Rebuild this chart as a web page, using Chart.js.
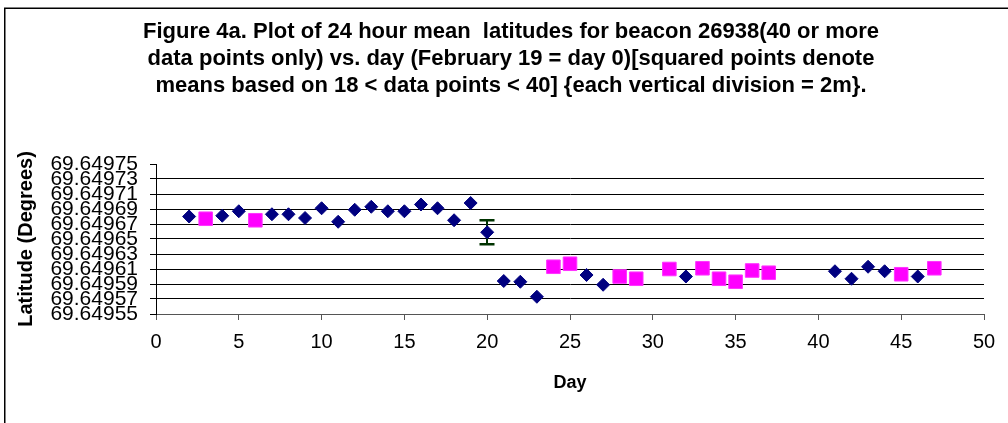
<!DOCTYPE html>
<html>
<head>
<meta charset="utf-8">
<script src="https://cdn.jsdelivr.net/npm/chart.js@4/dist/chart.umd.min.js"></script>
<style>
  html, body { margin: 0; padding: 0; background: #fff; }
  #wrap { width: 1008px; height: 423px; position: relative; }
</style>
</head>
<body>
<div id="wrap"><canvas id="c" width="1008" height="423"></canvas></div>
<script>
// ---- data ----
const titleLines = [
  "Figure 4a. Plot of 24 hour mean  latitudes for beacon 26938(40 or more",
  "data points only) vs. day (February 19 = day 0)[squared points denote",
  "means based on 18 < data points < 40] {each vertical division = 2m}."
];
const xAxisTitle = "Day";
const yAxisTitle = "Latitude (Degrees)";

// diamonds: means with 40 or more data points
const diamondDays = [2, 4, 5, 7, 8, 9, 10, 11, 12, 13, 14, 15, 16, 17, 18, 19, 20, 21, 22, 23, 26, 27, 32, 41, 42, 43, 44, 46];
const diamondLat = [69.649680, 69.649681, 69.649687, 69.649683, 69.649683, 69.649678, 69.649691, 69.649673, 69.649689, 69.649693,
                    69.649687, 69.649687, 69.649696, 69.649691, 69.649675, 69.649698, 69.649659, 69.649594, 69.649593, 69.649573,
                    69.649602, 69.649589, 69.649600, 69.649607, 69.649597, 69.649613, 69.649607, 69.649600];

// squares: means based on 18 < data points < 40
const squareDays = [3, 6, 24, 25, 28, 29, 31, 33, 34, 35, 36, 37, 45, 47];
const squareLat = [69.649677, 69.649675, 69.649613, 69.649617, 69.649600, 69.649597, 69.649610, 69.649611,
                   69.649597, 69.649593, 69.649608, 69.649605, 69.649603, 69.649611];

// error bar
const errorDay = 20;
const errorLow = 69.649643;
const errorHigh = 69.649675;

// axes
const xMin = 0, xMax = 50, xStep = 5;
const yMin = 69.64955, yMax = 69.64975, yStep = 0.00002;

const FONT = "'Liberation Sans', Arial, Helvetica, sans-serif";

const toPts = (xs, ys) => xs.map((x, i) => ({ x: x, y: ys[i] }));

const framePlugin = {
  id: 'frame',
  beforeDraw(chart) {
    const ctx = chart.ctx;
    ctx.save();
    ctx.strokeStyle = '#000';
    ctx.lineWidth = 1.5;
    ctx.beginPath();
    ctx.moveTo(4.75, 430);
    ctx.lineTo(4.75, 8.25);
    ctx.lineTo(1020, 8.25);
    ctx.stroke();
    ctx.restore();
  }
};

const titlePlugin = {
  id: 'figTitle',
  afterDraw(chart) {
    const ctx = chart.ctx;
    ctx.save();
    ctx.fillStyle = '#000';
    ctx.font = "bold 22px " + FONT;
    ctx.textAlign = 'center';
    ctx.textBaseline = 'alphabetic';
    titleLines.forEach((t, i) => ctx.fillText(t, 511, 38 + i * 27));
    ctx.restore();
  }
};

const errorBarPlugin = {
  id: 'errorBar',
  beforeDatasetsDraw(chart) {
    const ctx = chart.ctx;
    const xs = chart.scales.x, ys = chart.scales.y;
    const px = Math.round(xs.getPixelForValue(errorDay));
    const pLo = ys.getPixelForValue(errorLow);
    const pHi = ys.getPixelForValue(errorHigh);
    ctx.save();
    ctx.strokeStyle = '#003300';
    ctx.lineWidth = 2;
    ctx.beginPath();
    ctx.moveTo(px, pHi);
    ctx.lineTo(px, pLo);
    ctx.stroke();
    ctx.lineWidth = 2.6;
    ctx.beginPath();
    ctx.moveTo(px - 7.5, pHi);
    ctx.lineTo(px + 7.5, pHi);
    ctx.moveTo(px - 7.5, pLo);
    ctx.lineTo(px + 7.5, pLo);
    ctx.stroke();
    ctx.restore();
  }
};

new Chart(document.getElementById('c'), {
  type: 'scatter',
  data: {
    datasets: [
      {
        label: '40 or more data points',
        data: toPts(diamondDays, diamondLat),
        pointStyle: 'rectRot',
        pointRadius: 6.5,
        pointHoverRadius: 6.5,
        backgroundColor: '#000080',
        borderColor: '#000080',
        borderWidth: 1
      },
      {
        label: '18 < data points < 40',
        data: toPts(squareDays, squareLat),
        pointStyle: 'rect',
        pointRadius: 9.6,
        pointHoverRadius: 9.6,
        backgroundColor: '#FF00FF',
        borderColor: '#FF33FF',
        borderWidth: 1
      }
    ]
  },
  options: {
    responsive: false,
    animation: false,
    events: [],
    layout: { padding: { left: 0, right: 24, top: 164, bottom: 0 } },
    plugins: {
      legend: { display: false },
      tooltip: { enabled: false },
      title: { display: false }
    },
    scales: {
      x: {
        type: 'linear',
        min: xMin, max: xMax,
        afterFit(scale) { scale.height = 109; },
        ticks: {
          stepSize: xStep,
          color: '#000',
          font: { family: FONT, size: 20 },
          padding: 10,
          maxRotation: 0,
          autoSkip: false
        },
        grid: {
          drawOnChartArea: false,
          drawTicks: true,
          tickLength: 6,
          color: '#555',
          tickColor: '#555'
        },
        border: { display: true, color: '#555', width: 1 },
        title: {
          display: true,
          text: xAxisTitle,
          color: '#000',
          font: { family: FONT, size: 18, weight: 'bold', lineHeight: 1.2 },
          padding: { top: 0, bottom: 29 }
        }
      },
      y: {
        type: 'linear',
        min: yMin, max: yMax,
        afterFit(scale) { scale.width = 156; },
        ticks: {
          stepSize: yStep,
          color: '#000',
          font: { family: FONT, size: 21, lineHeight: 1 },
          padding: 12,
          autoSkip: false,
          callback: (v) => Number(v).toFixed(5)
        },
        grid: {
          drawOnChartArea: true,
          drawTicks: true,
          tickLength: 6,
          color: (c) => (c.tick && Math.abs(c.tick.value - yMax) < 1e-9) ? 'rgba(0,0,0,0)' : '#000',
          tickColor: '#000'
        },
        border: { display: true, color: '#000', width: 1 },
        title: {
          display: true,
          text: yAxisTitle,
          color: '#000',
          font: { family: FONT, size: 20, weight: 'bold', lineHeight: 1.2 },
          padding: { top: 14, bottom: 0 }
        }
      }
    }
  },
  plugins: [framePlugin, errorBarPlugin, titlePlugin]
});
</script>
</body>
</html>
